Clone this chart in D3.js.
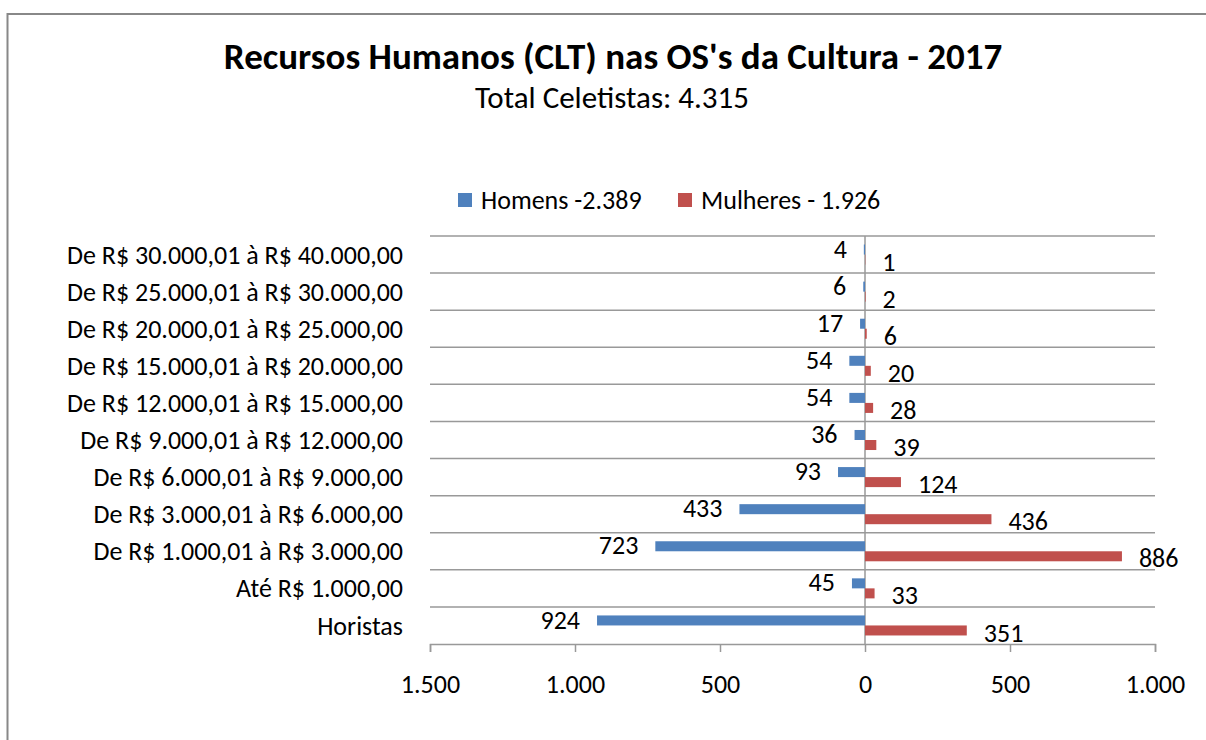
<!DOCTYPE html>
<html>
<head>
<meta charset="utf-8">
<script src="https://cdn.jsdelivr.net/npm/d3@7"></script>
<style>
  body { margin: 0; background: #fff; overflow: hidden; }
  svg text { font-family: Carlito, Lato, "Open Sans", sans-serif; fill: #000; }
</style>
</head>
<body>
<div class="chart"></div>
<script>
// categories top to bottom
const categories = [
  'De R$ 30.000,01 à R$ 40.000,00',
  'De R$ 25.000,01 à R$ 30.000,00',
  'De R$ 20.000,01 à R$ 25.000,00',
  'De R$ 15.000,01 à R$ 20.000,00',
  'De R$ 12.000,01 à R$ 15.000,00',
  'De R$ 9.000,01 à R$ 12.000,00',
  'De R$ 6.000,01 à R$ 9.000,00',
  'De R$ 3.000,01 à R$ 6.000,00',
  'De R$ 1.000,01 à R$ 3.000,00',
  'Até R$ 1.000,00',
  'Horistas'
];
const homens = [4, 6, 17, 54, 54, 36, 93, 433, 723, 45, 924];
const mulheres = [1, 2, 6, 20, 28, 39, 124, 436, 886, 33, 351];
const tickValues = [-1500, -1000, -500, 0, 500, 1000];
const seriesNames = ['Homens -2.389', 'Mulheres - 1.926'];
const colors = ['#4F81BD', '#C0504D'];

const svgWidth = 1206;
const svgHeight = 740;
const margin = { top: 236, right: 51, bottom: 96, left: 430 };
const width = svgWidth - margin.left - margin.right;
const height = svgHeight - margin.top - margin.bottom;

const svg = d3.select('.chart')
  .append('svg')
  .attr('width', svgWidth)
  .attr('height', svgHeight);

// outer chart border (only left and top visible)
svg.append('rect')
  .attr('x', 7.5).attr('y', 14)
  .attr('width', 1300).attr('height', 800)
  .attr('fill', 'none')
  .attr('stroke', '#888')
  .attr('stroke-width', 2);

// titles
svg.append('text')
  .attr('x', 613).attr('y', 69)
  .attr('text-anchor', 'middle')
  .style('font-size', '37px')
  .style('font-weight', 'bold')
  .text("Recursos Humanos (CLT) nas OS's da Cultura - 2017");

svg.append('text')
  .attr('x', 612).attr('y', 108)
  .attr('text-anchor', 'middle')
  .style('font-size', '31px')
  .text('Total Celetistas: 4.315');

const chartGroup = svg.append('g')
  .attr('transform', `translate(${margin.left}, ${margin.top})`);

const x = d3.scaleLinear()
  .domain([-1500, 1000])
  .range([0, width]);

const y = d3.scaleBand()
  .domain(categories)
  .range([0, height])
  .paddingInner(0.46)
  .paddingOuter(0.23);

const rowH = height / categories.length;

// horizontal gridlines at category boundaries
chartGroup.selectAll('.grid')
  .data(d3.range(categories.length))
  .enter()
  .append('line')
  .attr('x1', 0).attr('x2', width)
  .attr('y1', i => i * rowH).attr('y2', i => i * rowH)
  .attr('stroke', '#999')
  .attr('stroke-width', 1.5);

// bottom axis
const bottomAxis = d3.axisBottom(x)
  .tickValues(tickValues)
  .tickSize(8)
  .tickPadding(23)
  .tickFormat(d => d3.format(',')(Math.abs(d)).replace(/,/g, '.'));

const axisG = chartGroup.append('g')
  .attr('transform', `translate(0, ${height})`)
  .call(bottomAxis);
axisG.select('.domain').attr('stroke', '#999').attr('stroke-width', 1.5);
axisG.selectAll('.tick line').attr('stroke', '#999').attr('stroke-width', 1.5);
axisG.selectAll('.tick text')
  .style('font-size', '26px')
  .style('font-family', 'Carlito, Lato, "Open Sans", sans-serif');

// zero line
chartGroup.append('line')
  .attr('x1', x(0)).attr('x2', x(0))
  .attr('y1', 0).attr('y2', height)
  .attr('stroke', '#999')
  .attr('stroke-width', 1.5);

// category labels
chartGroup.selectAll('.cat')
  .data(categories)
  .enter()
  .append('text')
  .attr('x', -27)
  .attr('y', d => y(d) + y.bandwidth() / 2)
  .attr('dy', '0.35em')
  .attr('text-anchor', 'end')
  .style('font-size', '26px')
  .text(d => d);

const barH = y.bandwidth() / 2;

// homens bars (left)
chartGroup.selectAll('.hbar')
  .data(homens)
  .enter()
  .append('rect')
  .attr('x', d => x(-d))
  .attr('y', (d, i) => y(categories[i]))
  .attr('width', d => x(0) - x(-d))
  .attr('height', barH)
  .attr('fill', colors[0]);

// mulheres bars (right)
chartGroup.selectAll('.mbar')
  .data(mulheres)
  .enter()
  .append('rect')
  .attr('x', x(0))
  .attr('y', (d, i) => y(categories[i]) + barH)
  .attr('width', d => x(d) - x(0))
  .attr('height', barH)
  .attr('fill', colors[1]);

// value labels
chartGroup.selectAll('.hlab')
  .data(homens)
  .enter()
  .append('text')
  .attr('x', d => x(-d) - 17)
  .attr('y', (d, i) => y(categories[i]) + barH / 2 - 1)
  .attr('dy', '0.35em')
  .attr('text-anchor', 'end')
  .style('font-size', '26px')
  .text(d => d);

chartGroup.selectAll('.mlab')
  .data(mulheres)
  .enter()
  .append('text')
  .attr('x', d => x(d) + 17)
  .attr('y', (d, i) => y(categories[i]) + barH * 1.5 + 2)
  .attr('dy', '0.35em')
  .attr('text-anchor', 'start')
  .style('font-size', '26px')
  .text(d => d);

// legend
const legend = svg.append('g');
const legendX = [458, 678];
seriesNames.forEach((name, i) => {
  legend.append('rect')
    .attr('x', legendX[i]).attr('y', 193)
    .attr('width', 14).attr('height', 14)
    .attr('fill', colors[i]);
  legend.append('text')
    .attr('x', legendX[i] + 23).attr('y', 200)
    .attr('dy', '0.35em')
    .style('font-size', '26px')
    .text(name);
});
</script>
</body>
</html>
